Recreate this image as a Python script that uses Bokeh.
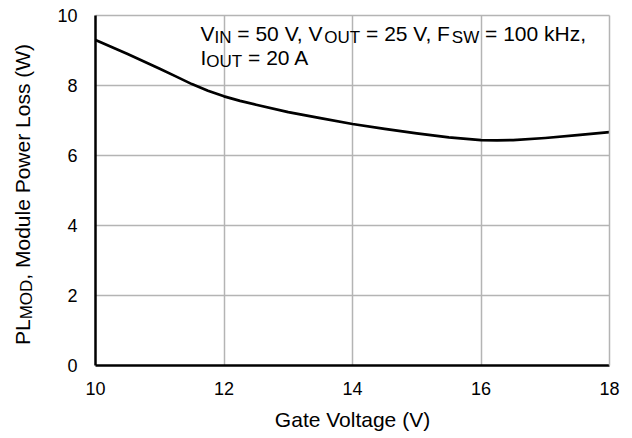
import math
from bokeh.plotting import figure
from bokeh.models import Label, FixedTicker, Range1d, LinearAxis, Grid
from bokeh.embed import file_html
from bokeh.resources import INLINE

# ---------------- data ----------------
gate_voltage = [10, 10.5, 11, 11.25, 11.5, 11.75, 12, 12.25, 12.5, 13, 13.5, 14, 14.5, 15, 15.5, 16, 16.25, 16.5, 17, 17.5, 18]
power_loss = [9.30, 8.90, 8.48, 8.26, 8.04, 7.85, 7.69, 7.56, 7.45, 7.24, 7.07, 6.90, 6.76, 6.63, 6.52, 6.44, 6.43, 6.44, 6.50, 6.58, 6.67]
x_ticks = [10, 12, 14, 16, 18]
y_ticks = [0, 2, 4, 6, 8, 10]
x_grid_ticks = [12, 14, 16]
y_grid_ticks = [2, 4, 6, 8]
x_label = "Gate Voltage (V)"
y_label_parts = [("PL", 0), ("MOD", 1), (", Module Power Loss (W)", 0)]
note_line1 = [("V", 0), ("IN", 1), (" = 50 V, V", 0), ("OUT", 1), (" = 25 V, F", 0), ("SW", 1), (" = 100 kHz,", 0)]
note_line2 = [("I", 0), ("OUT", 1), (" = 20 A", 0)]

FONT = "Liberation Sans"
FS_MAIN = 21
FS_SUB = 17
FS_TICK = 18
BASE_FIX = 8  # rendered baseline sits lower than the anchor by about this much

# Arial / Liberation Sans advance widths (per 1000 em)
AW = {' ': 278, '=': 584, ',': 278, '(': 333, ')': 333, 'A': 667, 'D': 722, 'F': 611,
      'G': 778, 'H': 722, 'I': 278, 'L': 556, 'M': 833, 'N': 722, 'O': 778, 'P': 667,
      'S': 667, 'T': 611, 'U': 722, 'V': 667, 'W': 944, 'a': 556, 'd': 556, 'e': 556,
      'g': 556, 'k': 500, 'l': 222, 'o': 556, 'r': 333, 's': 500, 't': 278, 'u': 556,
      'w': 722, 'z': 500}


def tw(s, size):
    return sum(AW.get(c, 556) for c in s) * size / 1000.0


# canvas and plot-box geometry (pixels)
W, H = 632, 438
FX0, FX1 = 95, 609
FY0, FY1 = 15, 365
X_MIN, X_MAX, Y_MIN, Y_MAX = 10, 18, 0, 10
PPX = (FX1 - FX0) / (X_MAX - X_MIN)
PPY = (FY1 - FY0) / (Y_MAX - Y_MIN)
X_START = X_MIN - FX0 / PPX
X_END = X_MAX + (W - FX1) / PPX
Y_START = Y_MIN - (H - FY1) / PPY
Y_END = Y_MAX + FY0 / PPY


def dx(px):
    return X_START + px / PPX


def dy(py):
    return Y_END - py / PPY


p = figure(width=W, height=H,
           x_range=Range1d(X_START, X_END), y_range=Range1d(Y_START, Y_END),
           x_axis_location=None, y_axis_location=None,
           output_backend="svg", toolbar_location=None)
p.min_border = 0
p.title.visible = False
p.background_fill_color = "white"
p.border_fill_color = "white"
p.outline_line_color = None
# drop the default full-canvas grids
p.center = [r for r in p.center if not isinstance(r, Grid)]

GRID_COLOR = "#b4b4b4"

# grid lines, bounded to the plot box
xg = Grid(dimension=0, ticker=FixedTicker(ticks=x_grid_ticks), bounds=(X_MIN, X_MAX),
          cross_bounds=(Y_MIN, Y_MAX), grid_line_color=GRID_COLOR, grid_line_width=1.5)
yg = Grid(dimension=1, ticker=FixedTicker(ticks=y_grid_ticks), bounds=(Y_MIN, Y_MAX),
          cross_bounds=(X_MIN, X_MAX), grid_line_color=GRID_COLOR, grid_line_width=1.5)
p.add_layout(xg)
p.add_layout(yg)

p.line(gate_voltage, power_loss, line_color="black", line_width=2.7, line_join="round")


def style_axis(ax, color, width):
    ax.axis_line_color = color
    ax.axis_line_width = width
    ax.major_tick_line_color = None
    ax.minor_tick_line_color = None
    ax.major_label_text_font = FONT
    ax.major_label_text_font_size = f"{FS_TICK}px"
    ax.major_label_text_color = "black"


# top and right box edges (gray, no labels)
top_ax = LinearAxis(fixed_location=Y_MAX, bounds=(X_MIN, X_MAX), ticker=FixedTicker(ticks=[]))
style_axis(top_ax, GRID_COLOR, 1.5)
right_ax = LinearAxis(fixed_location=X_MAX, bounds=(Y_MIN, Y_MAX), ticker=FixedTicker(ticks=[]))
style_axis(right_ax, GRID_COLOR, 1.5)
p.add_layout(top_ax, "above")
p.add_layout(right_ax, "right")

# main axes (black)
x_ax = LinearAxis(fixed_location=Y_MIN, bounds=(X_MIN, X_MAX), ticker=FixedTicker(ticks=x_ticks))
style_axis(x_ax, "black", 2.5)
x_ax.major_label_standoff = 10
y_ax = LinearAxis(fixed_location=X_MIN, bounds=(Y_MIN, Y_MAX), ticker=FixedTicker(ticks=y_ticks))
style_axis(y_ax, "black", 2.5)
y_ax.major_label_standoff = 12
p.add_layout(x_ax, "below")
p.add_layout(y_ax, "left")


def add_rich(parts, px, py, rotated=False, sub_shift=4.0):
    """Lay out text segments with subscripts; (px, py) is the first baseline point."""
    pos = 0.0
    for text, is_sub in parts:
        size = FS_SUB if is_sub else FS_MAIN
        lead = len(text) - len(text.lstrip(' '))
        pos += tw(' ' * lead, size)
        t = text.lstrip(' ')
        shift = (sub_shift if is_sub else 0) - BASE_FIX
        if rotated:
            x = dx(px + shift)
            y = dy(py - pos)
            ang = math.pi / 2
        else:
            x = dx(px + pos)
            y = dy(py + shift)
            ang = 0
        p.add_layout(Label(x=x, y=y, text=t, text_font=FONT, text_font_size=f"{size}px",
                           text_color="black", text_align="left", text_baseline="alphabetic",
                           angle=ang))
        pos += tw(t, size)
    return pos


# annotation inside the plot
add_rich(note_line1, 200, 41)
add_rich(note_line2, 200, 65)

# rotated y-axis title
total_y = sum(tw(t, FS_SUB if s else FS_MAIN) for t, s in y_label_parts)
add_rich(y_label_parts, 30, 194 + total_y / 2, rotated=True)

# x-axis title
p.add_layout(Label(x=dx(352), y=dy(427 - BASE_FIX), text=x_label, text_font=FONT,
                   text_font_size=f"{FS_MAIN}px", text_color="black",
                   text_align="center", text_baseline="alphabetic"))

open("out.html", "w").write(file_html(p, INLINE))
